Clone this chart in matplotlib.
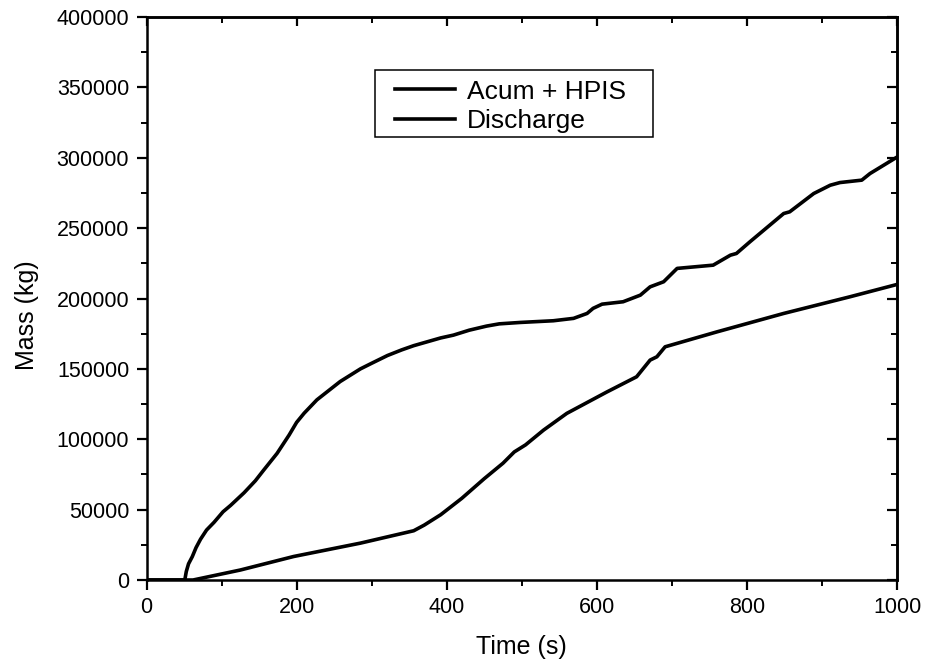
import matplotlib
matplotlib.use("Agg")
import matplotlib.pyplot as plt
from matplotlib.ticker import MultipleLocator
from matplotlib.patches import Rectangle

plt.rcParams['font.family'] = ['Liberation Sans', 'DejaVu Sans']

# Acum + HPIS
t_acum = [0, 51, 53, 56, 61, 66, 72, 80, 90, 102, 112, 120, 130, 145, 156, 174, 190, 200,
          210, 227, 258, 285, 300, 321, 340, 356, 392, 409, 430, 453, 470, 498, 542, 569,
          587, 595, 607, 635, 658, 671, 689, 707, 755, 778, 786, 804, 849, 857, 889, 911,
          924, 953, 964, 1000]
m_acum = [0, 0, 6000, 11500, 16600, 23000, 29000, 35500, 41000, 48500, 53000, 57000, 62000,
          70500, 78000, 90000, 103000, 112000, 118500, 128000, 141000, 150000, 154000,
          159500, 163500, 166500, 172000, 174000, 177500, 180400, 182000, 183000, 184200,
          185900, 189400, 193000, 196000, 197700, 202400, 208300, 211900, 221400, 223700,
          230800, 232000, 240300, 260400, 261600, 274600, 280500, 282400, 284100, 288800,
          300500]

# Discharge
t_dis = [0, 62, 125, 196, 285, 356, 370, 392, 420, 450, 475, 490, 505, 529, 560, 613, 653,
         671, 680, 691, 760, 849, 937, 1000]
m_dis = [0, 0, 7100, 16700, 26200, 35000, 39000, 46400, 58000, 72000, 83000, 91000, 96000,
         106500, 118400, 133500, 144400, 156250, 158600, 165700, 176300, 189400, 201200,
         210000]

fig = plt.figure(figsize=(9.29, 6.65), dpi=100)
ax = fig.add_axes([0.1577, 0.1278, 0.8079, 0.8466])

ax.plot(t_acum, m_acum, color='black', lw=2.6, label='Acum + HPIS', solid_joinstyle='round')
ax.plot(t_dis, m_dis, color='black', lw=2.6, label='Discharge', solid_joinstyle='round')

ax.set_xlim(0, 1000)
ax.set_ylim(0, 400000)
ax.xaxis.set_major_locator(MultipleLocator(200))
ax.xaxis.set_minor_locator(MultipleLocator(100))
ax.yaxis.set_major_locator(MultipleLocator(50000))
ax.yaxis.set_minor_locator(MultipleLocator(25000))

for s in ax.spines.values():
    s.set_linewidth(1.8)

ax.tick_params(which='major', direction='out', length=7.5, width=1.6, labelsize=15.5,
               top=False, right=False)
ax.tick_params(axis='x', which='major', pad=5)
ax.tick_params(axis='y', which='major', pad=5)
ax.tick_params(which='minor', direction='out', length=4, width=1.4, top=False, right=False)

secx = ax.secondary_xaxis('top')
secx.xaxis.set_major_locator(MultipleLocator(200))
secx.xaxis.set_minor_locator(MultipleLocator(100))
secx.tick_params(which='major', direction='in', length=6.5, width=1.6, labeltop=False)
secx.tick_params(which='minor', direction='in', length=4, width=1.4)
secx.spines['top'].set_linewidth(1.8)

secy = ax.secondary_yaxis('right')
secy.yaxis.set_major_locator(MultipleLocator(50000))
secy.yaxis.set_minor_locator(MultipleLocator(25000))
secy.tick_params(which='major', direction='in', length=7, width=1.6, labelright=False)
secy.tick_params(which='minor', direction='in', length=4, width=1.4)
secy.spines['right'].set_linewidth(1.8)

ax.set_xlabel('Time (s)', fontsize=18, labelpad=12)
ax.set_ylabel('Mass (kg)', fontsize=18)
ax.yaxis.set_label_coords(-0.143, 0.47)

leg = ax.legend(loc='upper left', bbox_to_anchor=(0.331, 0.889), borderaxespad=0,
                fontsize=19, frameon=False, handlelength=2.27, handletextpad=0.45,
                borderpad=0, labelspacing=0.2)
ax.add_patch(Rectangle((0.3045, 0.787), 0.3704, 0.119, transform=ax.transAxes,
                       fill=False, edgecolor='black', lw=1.1, zorder=5))

fig.savefig('out.png', dpi=100)
